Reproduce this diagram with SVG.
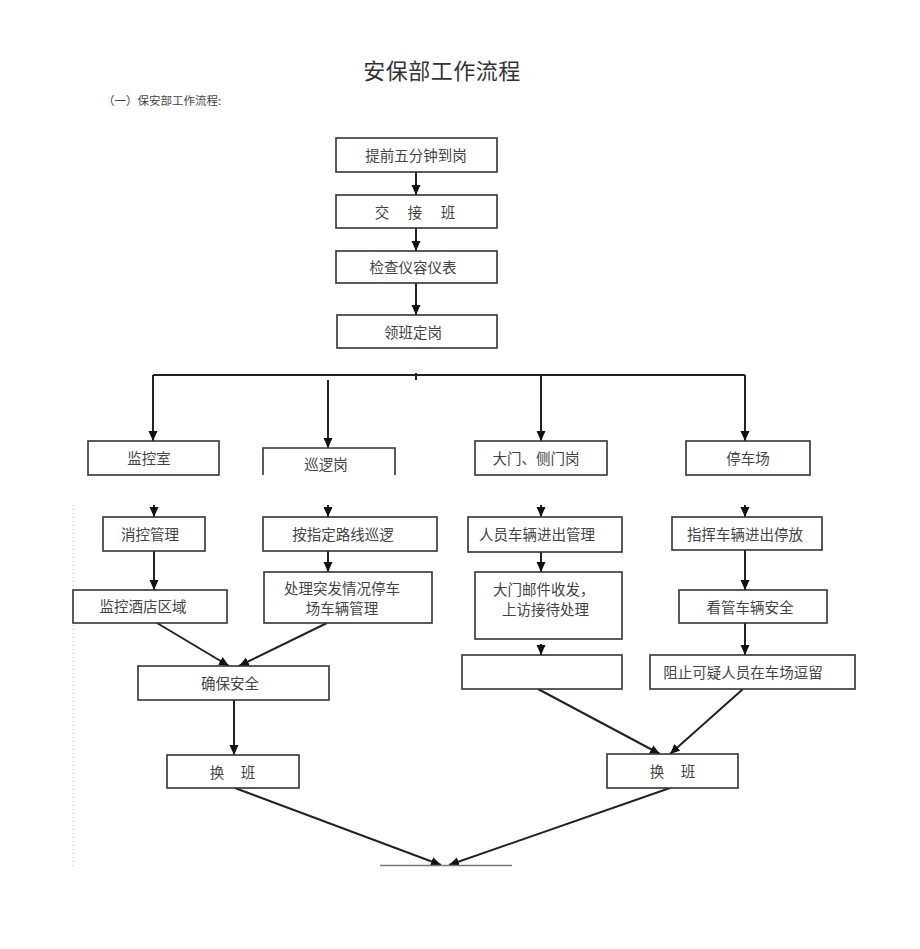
<svg xmlns="http://www.w3.org/2000/svg" width="920" height="949" viewBox="0 0 920 949">
<style>
.bg{fill:#fff}
.box{fill:#fff;stroke:#333;stroke-width:1.6}
.open{fill:none;stroke:#333;stroke-width:1.6}
.t{font-family:"Noto Sans CJK SC","Noto Sans CJK TC",sans-serif;font-size:14.5px;fill:#444;text-anchor:middle;dominant-baseline:central}
.ts{font-family:"Noto Sans CJK SC",sans-serif;font-size:14.5px;fill:#444;dominant-baseline:central}
.title{font-family:"Noto Sans CJK SC",sans-serif;font-size:22px;fill:#333;text-anchor:middle;letter-spacing:0.5px}
.sub{font-family:"Noto Sans CJK SC",sans-serif;font-size:11.5px;fill:#444}
.c{fill:none;stroke:#222;stroke-width:2}
.ca{fill:none;stroke:#222;stroke-width:2;marker-end:url(#ah)}
.dot{fill:none;stroke:#bbb;stroke-width:1;stroke-dasharray:1 3}
</style>
<defs>
<marker id="ah" markerUnits="userSpaceOnUse" markerWidth="10" markerHeight="10" refX="10" refY="5" orient="auto">
<path d="M0,0.5 L10,5 L0,9.5 z" fill="#111"/>
</marker>
</defs>
<rect class="bg" x="0" y="0" width="920" height="949"/>
<text class="title" x="442" y="79">安保部工作流程</text>
<text class="sub" x="103" y="105">（一）保安部工作流程:</text>
<line class="dot" x1="73" y1="505" x2="73" y2="866"/>
<g id="connectors">
<path class="ca" d="M416,172 V195"/>
<path class="ca" d="M416,228 V251"/>
<path class="ca" d="M416,283 V315"/>
<path class="c" d="M416,373 V380"/>
<path class="c" d="M153,375 H745"/>
<path class="ca" d="M153,375 V441"/>
<path class="ca" d="M745,375 V441"/>
<path class="ca" d="M541,375 V441"/>
<path class="ca" d="M328,380 V448"/>
<path class="ca" d="M154,505 V517"/>
<path class="ca" d="M328,505 V517"/>
<path class="ca" d="M541,505 V517"/>
<path class="ca" d="M745,505 V517"/>
<path class="ca" d="M154,551 V590"/>
<path class="ca" d="M328,551 V572"/>
<path class="ca" d="M541,552 V572"/>
<path class="ca" d="M541,644 V655"/>
<path class="ca" d="M745,550 V590"/>
<path class="ca" d="M745,623 V655"/>
<path class="ca" d="M157,623 L229,666"/>
<path class="ca" d="M327,623 L239,666"/>
<path class="ca" d="M234,700 V755"/>
<path class="ca" d="M538,689 L660,754"/>
<path class="ca" d="M743,689 L670,754"/>
<path class="ca" d="M235,788 L441,865"/>
<path class="ca" d="M670,788 L449,865"/>
</g>
<g id="n1"><rect class="box" x="336" y="138" width="161" height="34"/><text class="t" x="416" y="154">提前五分钟到岗</text></g>
<g id="n2"><rect class="box" x="336" y="195" width="161" height="33"/><text class="t" x="416" y="211" style="letter-spacing:2px">交　接　班</text></g>
<g id="n3"><rect class="box" x="336" y="251" width="161" height="32"/><text class="t" x="413" y="266">检查仪容仪表</text></g>
<g id="n4"><rect class="box" x="337" y="315" width="160" height="33"/><text class="t" x="413" y="331">领班定岗</text></g>
<g id="n5"><rect class="box" x="88" y="441" width="131" height="34"/><text class="t" x="149" y="457">监控室</text></g>
<g id="n6"><path class="open" d="M263,475 V448 H395 V475"/><text class="t" x="326" y="463">巡逻岗</text></g>
<g id="n7"><rect class="box" x="475" y="441" width="132" height="34"/><text class="t" x="536" y="457">大门、侧门岗</text></g>
<g id="n8"><rect class="box" x="686" y="441" width="124" height="34"/><text class="t" x="748" y="457">停车场</text></g>
<g id="n9"><rect class="box" x="103" y="517" width="102" height="34"/><text class="t" x="150" y="533">消控管理</text></g>
<g id="n10"><rect class="box" x="263" y="517" width="174" height="34"/><text class="t" x="343" y="533">按指定路线巡逻</text></g>
<g id="n11"><rect class="box" x="468" y="517" width="154" height="35"/><text class="t" x="537" y="533">人员车辆进出管理</text></g>
<g id="n12"><rect class="box" x="672" y="517" width="150" height="33"/><text class="t" x="745" y="533">指挥车辆进出停放</text></g>
<g id="n13"><rect class="box" x="73" y="590" width="154" height="33"/><text class="t" x="143" y="605">监控酒店区域</text></g>
<g id="n14"><rect class="box" x="264" y="572" width="168" height="51"/><text class="t" x="342" y="587">处理突发情况停车</text><text class="t" x="342" y="607">场车辆管理</text></g>
<g id="n15"><rect class="box" x="475" y="572" width="147" height="67"/><text class="ts" x="493" y="588">大门邮件收发，</text><text class="ts" x="502" y="608">上访接待处理</text></g>
<g id="n16"><rect class="box" x="679" y="590" width="148" height="33"/><text class="t" x="750" y="606">看管车辆安全</text></g>
<g id="n17"><rect class="box" x="462" y="655" width="160" height="34"/></g>
<g id="n18"><rect class="box" x="650" y="655" width="205" height="34"/><text class="t" x="743" y="671">阻止可疑人员在车场逗留</text></g>
<g id="n19"><rect class="box" x="138" y="666" width="191" height="34"/><text class="t" x="230" y="682">确保安全</text></g>
<g id="n20"><rect class="box" x="167" y="755" width="132" height="33"/><text class="t" x="233" y="771" style="letter-spacing:1px">换　班</text></g>
<g id="n21"><rect class="box" x="607" y="754" width="131" height="34"/><text class="t" x="673" y="770" style="letter-spacing:1px">换　班</text></g>
<g id="n22"><line x1="380" y1="865.5" x2="512" y2="865.5" stroke="#777" stroke-width="1.6"/></g>
</svg>
